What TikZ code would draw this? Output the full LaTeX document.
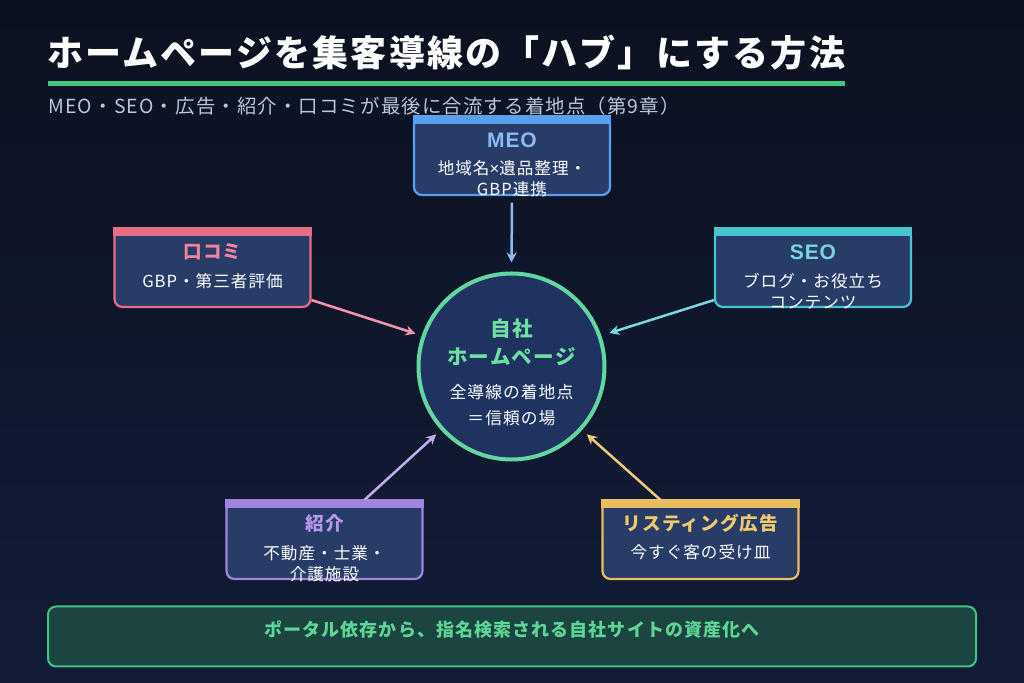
\documentclass[tikz,border=0pt]{standalone}
\usepackage{fontspec}
\setmainfont{Noto Sans CJK JP}[LetterSpace=6]
\newfontfamily\latinfont{Liberation Sans}[LetterSpace=4]
\usetikzlibrary{arrows.meta,positioning}

\definecolor{bgtop}{RGB}{11,17,32}
\definecolor{bgbot}{RGB}{19,29,56}
\definecolor{cardfill}{RGB}{40,60,104}
\definecolor{hubfill}{RGB}{31,51,97}
\definecolor{hubline}{RGB}{98,214,160}
\definecolor{hubtext}{RGB}{110,222,162}
\definecolor{accent}{RGB}{64,196,128}
\definecolor{subtext}{RGB}{188,198,218}
\definecolor{bannerfill}{RGB}{28,68,64}
\definecolor{bannertext}{RGB}{92,214,150}
% card colours: border / title / arrow
\definecolor{meoB}{RGB}{90,160,240}
\definecolor{meoT}{RGB}{140,186,245}
\definecolor{meoA}{RGB}{140,186,245}
\definecolor{kuchiB}{RGB}{232,110,135}
\definecolor{kuchiT}{RGB}{245,130,158}
\definecolor{kuchiA}{RGB}{245,150,172}
\definecolor{seoB}{RGB}{72,196,206}
\definecolor{seoT}{RGB}{122,214,220}
\definecolor{seoA}{RGB}{122,214,224}
\definecolor{shoB}{RGB}{160,132,222}
\definecolor{shoT}{RGB}{182,152,236}
\definecolor{shoA}{RGB}{196,172,240}
\definecolor{adB}{RGB}{232,190,96}
\definecolor{adT}{RGB}{240,202,112}
\definecolor{adA}{RGB}{240,202,122}

\begin{document}
\begin{tikzpicture}[
  x=0.5pt, y=-0.5pt,
  card/.style={draw=#1, line width=1.1pt, fill=cardfill, rounded corners=4pt, minimum width=98pt, minimum height=39pt, inner sep=0pt},
  cardhead/.style={text=#1, font=\fontsize{9.3pt}{11pt}\selectfont\bfseries},
  latinhead/.style={text=#1, font=\latinfont\fontsize{10.5pt}{12pt}\selectfont\bfseries},
  cardtext/.style={text=white, align=center, font=\fontsize{8.3pt}{10.5pt}\selectfont},
  feed/.style={draw=#1, line width=1.25pt, -{Stealth[length=5pt,width=5pt]}, shorten >=3.2pt}
]
  % background
  \shade[top color=bgtop, bottom color=bgbot] (0,0) rectangle (1024,683);
  \useasboundingbox (0,0) rectangle (1024,683);

  % heading
  \node[anchor=west, inner sep=0pt, text=white, font=\fontsize{18pt}{20pt}\selectfont\bfseries] (title) at (47,53) {ホームページを集客導線の「ハブ」にする方法};
  \draw[accent, line width=2.5pt] (48,84) -- (845,84);
  \node[anchor=west, inner sep=0pt, text=subtext, font=\fontsize{9.7pt}{11pt}\selectfont] (subtitle) at (48,106) {MEO・SEO・広告・紹介・口コミが最後に合流する着地点（第9章）};

  % hub
  \node[circle, draw=hubline, line width=2pt, fill=hubfill, minimum size=93pt, inner sep=0pt] (hub) at (511.5,366.5) {};
  \node[text=hubtext, align=center, font=\fontsize{10.3pt}{14pt}\selectfont\bfseries] (hubhead) at (511.5,342) {自社\\ホームページ};
  \node[text=white, align=center, font=\fontsize{8.4pt}{13pt}\selectfont] (hubtext) at (511.5,405) {全導線の着地点\\＝信頼の場};

  % cards
  \node[card=meoB] (meo) at (512,156) {};
  \fill[meoB] ([yshift=0.6pt]meo.north west) rectangle ([yshift=-4pt]meo.north east);
  \node[latinhead=meoT] (meohead) at (512,140) {MEO};
  \node[cardtext] (meotext) at (512,179) {地域名{\latinfont ×}遺品整理・\\GBP連携};

  \node[card=kuchiB] (kuchi) at (212.5,268) {};
  \fill[kuchiB] ([yshift=0.6pt]kuchi.north west) rectangle ([yshift=-4pt]kuchi.north east);
  \node[cardhead=kuchiT] (kuchihead) at (212.5,252) {口コミ};
  \node[cardtext] (kuchitext) at (212.5,281) {GBP・第三者評価};

  \node[card=seoB] (seo) at (813,268) {};
  \fill[seoB] ([yshift=0.6pt]seo.north west) rectangle ([yshift=-4pt]seo.north east);
  \node[latinhead=seoT] (seohead) at (813,252) {SEO};
  \node[cardtext] (seotext) at (813,291.5) {ブログ・お役立ち\\コンテンツ};

  \node[card=shoB] (sho) at (324.5,540) {};
  \fill[shoB] ([yshift=0.6pt]sho.north west) rectangle ([yshift=-4pt]sho.north east);
  \node[cardhead=shoT] (shohead) at (324.5,523) {紹介};
  \node[cardtext] (shotext) at (324.5,564) {不動産・士業・\\介護施設};

  \node[card=adB] (ad) at (700.5,540) {};
  \fill[adB] ([yshift=0.6pt]ad.north west) rectangle ([yshift=-4pt]ad.north east);
  \node[cardhead=adT] (adhead) at (700.5,523) {リスティング広告};
  \node[cardtext] (adtext) at (700.5,552) {今すぐ客の受け皿};

  % flows into the hub
  \draw[feed=meoA, shorten <=3.3pt, shorten >=4.5pt] (meo.south) -- (hub.north);
  \draw[feed=kuchiA] ([yshift=4pt]kuchi.south east) -- (hub.161);
  \draw[feed=seoA, shorten >=4.2pt] ([yshift=4pt]seo.south west) -- (hub.19);
  \draw[feed=shoA] ([xshift=20pt]sho.north) -- (hub.222);
  \draw[feed=adA] ([xshift=-20pt]ad.north) -- (hub.318);

  % banner
  \node[draw=accent, line width=1pt, fill=bannerfill, rounded corners=4pt, minimum width=464pt, minimum height=30pt, inner sep=0pt] (banner) at (512,636.5) {};
  \node[text=bannertext, font=\fontsize{9pt}{11pt}\selectfont\bfseries] (bannertext) at (512,630) {ポータル依存から、指名検索される自社サイトの資産化へ};
\end{tikzpicture}
\end{document}
